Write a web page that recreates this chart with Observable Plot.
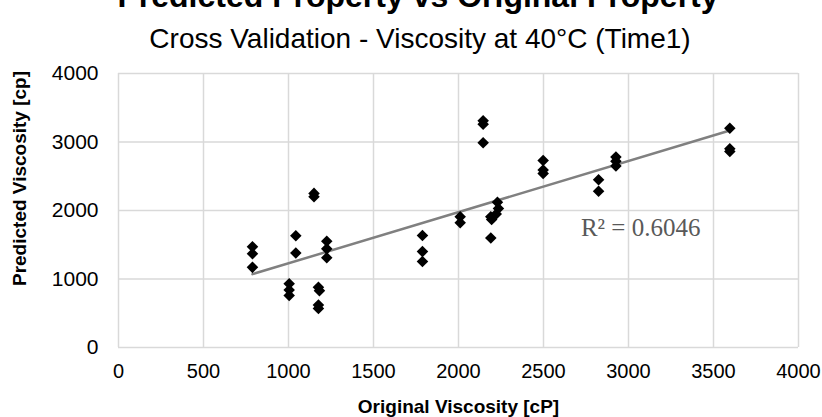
<!DOCTYPE html>
<html><head><meta charset="utf-8">
<script src="https://cdn.jsdelivr.net/npm/d3@7"></script>
<script src="https://cdn.jsdelivr.net/npm/@observablehq/plot@0.6"></script>
<style>
body{margin:0;background:#fff;font-family:"Liberation Sans",Arial,sans-serif;}
#wrap{position:relative;width:822px;height:417px;overflow:hidden;background:#fff;}
#title{position:absolute;left:0;width:822px;padding-left:14px;box-sizing:border-box;text-align:center;top:-20px;font-size:32px;font-weight:bold;line-height:32px;white-space:nowrap;z-index:2;}
#subtitle{position:absolute;left:0;width:822px;padding-left:18px;box-sizing:border-box;text-align:center;top:25px;font-size:28px;line-height:28px;white-space:nowrap;z-index:2;}
#chart{position:absolute;top:55px;left:0;z-index:1;}
</style>
</head><body>
<div id="wrap">
  <div id="chart"></div>
  <div id="title">Predicted Property vs Original Property</div>
  <div id="subtitle">Cross Validation - Viscosity at 40°C (Time1)</div>
</div>
<script>
const originalViscosity = [788, 788, 788, 1004, 1004, 1004, 1043, 1043, 1150, 1150, 1176, 1182, 1176, 1176, 1225, 1225, 1225, 1788, 1788, 1788, 2010, 2010, 2145, 2145, 2145, 2190, 2195, 2190, 2229, 2235, 2222, 2498, 2498, 2498, 2824, 2824, 2926, 2926, 2926, 3596, 3596, 3596];
const predictedViscosity = [1470, 1370, 1170, 930, 840, 760, 1630, 1380, 2250, 2200, 880, 830, 620, 570, 1550, 1440, 1310, 1635, 1400, 1254, 1910, 1820, 3310, 3260, 2990, 1910, 1870, 1600, 2120, 2030, 1950, 2730, 2590, 2540, 2450, 2280, 2780, 2720, 2650, 3200, 2900, 2860];
const xTicks = [0, 500, 1000, 1500, 2000, 2500, 3000, 3500, 4000];
const yTicks = [0, 1000, 2000, 3000, 4000];
const xAxisTitle = "Original Viscosity [cP]";
const yAxisTitle = "Predicted Viscosity [cp]";
const r2Text = "R² = 0.6046";
const r2Pos = {x: 2720, y: 1740};

const data = originalViscosity.map((x, i) => ({x, y: predictedViscosity[i]}));
const gridStyle = {stroke: "#d9d9d9", strokeOpacity: 1, strokeWidth: 1.5};

const chart = Plot.plot({
  width: 822, height: 362,
  marginTop: 18, marginBottom: 70, marginLeft: 118, marginRight: 24,
  style: {fontFamily: "'Liberation Sans', Arial, sans-serif", fontSize: "20px", color: "#000", background: "transparent", overflow: "visible"},
  x: {domain: [0, 4000], label: null},
  y: {domain: [0, 4000], label: null},
  marks: [
    Plot.gridX(xTicks, gridStyle),
    Plot.gridY(yTicks, gridStyle),
    Plot.axisX(xTicks, {tickSize: 0, tickPadding: 16, fontSize: 20, label: null, tickFormat: d => String(d)}),
    Plot.axisY(yTicks, {tickSize: 0, tickPadding: 20, fontSize: 21, label: null, tickFormat: d => String(d)}),
    Plot.linearRegressionY(data, {x: "x", y: "y", ci: 0, stroke: "#808080", strokeWidth: 2.5}),
    Plot.dot(data, {x: "x", y: "y", symbol: "diamond2", r: 5.2, fill: "#000", stroke: "none"}),
    Plot.text([r2Text], {x: () => r2Pos.x, y: () => r2Pos.y, text: d => d, textAnchor: "start", fontFamily: "'Liberation Serif', 'Times New Roman', serif", fontSize: 25, fill: "#595959"}),
    Plot.text([xAxisTitle], {text: d => d, frameAnchor: "bottom", textAnchor: "middle", lineAnchor: "middle", dy: 59, fontWeight: "bold", fontSize: 19}),
    Plot.text([yAxisTitle], {text: d => d, frameAnchor: "left", textAnchor: "middle", lineAnchor: "middle", rotate: -90, dx: -99, dy: -32, fontWeight: "bold", fontSize: 19})
  ]
});
document.getElementById("chart").appendChild(chart);
</script>
</body></html>
